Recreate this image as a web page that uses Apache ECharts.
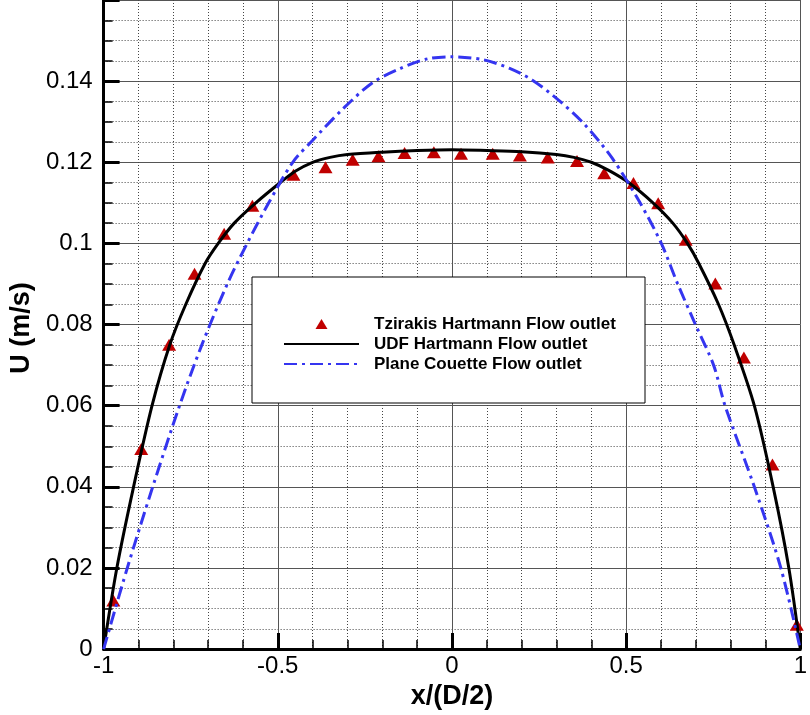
<!DOCTYPE html>
<html>
<head>
<meta charset="utf-8">
<script src="https://cdn.jsdelivr.net/npm/echarts@6/dist/echarts.min.js"></script>
<style>
html,body{margin:0;padding:0;background:#fff;}
#chart{width:810px;height:715px;}
</style>
</head>
<body>
<div id="chart"></div>
<script>
// ---- data ----
const seriesNames = ['Tzirakis Hartmann Flow outlet', 'UDF Hartmann Flow outlet', 'Plane Couette Flow outlet'];

const tzX = [-0.972, -0.892, -0.812, -0.739, -0.654, -0.573, -0.455, -0.363, -0.285, -0.211, -0.136, -0.052, 0.026, 0.117, 0.195, 0.275, 0.359, 0.437, 0.521, 0.592, 0.671, 0.756, 0.838, 0.920, 0.990];
const tzY = [0.0120, 0.0493, 0.0750, 0.0925, 0.1024, 0.1093, 0.1169, 0.1188, 0.1206, 0.1215, 0.1223, 0.1225, 0.1221, 0.1221, 0.1217, 0.1212, 0.1203, 0.1173, 0.1149, 0.1099, 0.1009, 0.0901, 0.0719, 0.0455, 0.0060];

const udfX = [-1.000, -0.962, -0.914, -0.861, -0.810, -0.764, -0.709, -0.671, -0.625, -0.563, -0.490, -0.450, -0.400, -0.350, -0.300, -0.200, -0.100, 0.000, 0.100, 0.200, 0.300, 0.350, 0.400, 0.450, 0.507, 0.577, 0.634, 0.676, 0.709, 0.765, 0.810, 0.868, 0.922, 0.967, 1.000];
const udfY = [0.0000, 0.0200, 0.0400, 0.0600, 0.0750, 0.0850, 0.0950, 0.1000, 0.1050, 0.1100, 0.1152, 0.1178, 0.1200, 0.1212, 0.1219, 0.1225, 0.1229, 0.1231, 0.1229, 0.1226, 0.1219, 0.1212, 0.1200, 0.1180, 0.1150, 0.1100, 0.1050, 0.1000, 0.0950, 0.0850, 0.0750, 0.0600, 0.0400, 0.0200, 0.0000];

const pcX = [-1.000, -0.932, -0.859, -0.782, -0.718, -0.645, -0.588, -0.526, -0.457, -0.399, -0.315, -0.230, -0.146, -0.070, 0.000, 0.089, 0.164, 0.230, 0.305, 0.380, 0.460, 0.540, 0.601, 0.648, 0.699, 0.751, 0.784, 0.868, 0.944, 1.000];
const pcY = [0.0000, 0.0200, 0.0400, 0.0600, 0.0750, 0.0900, 0.1000, 0.1100, 0.1200, 0.1255, 0.1330, 0.1395, 0.1432, 0.1455, 0.1460, 0.1453, 0.1432, 0.1403, 0.1354, 0.1294, 0.1210, 0.1100, 0.1000, 0.0900, 0.0800, 0.0700, 0.0600, 0.0400, 0.0200, 0.0000];

const xTickValues = [-1, -0.5, 0, 0.5, 1];
const xTickLabels = ['-1', '-0.5', '0', '0.5', '1'];
const yTickValues = [0, 0.02, 0.04, 0.06, 0.08, 0.1, 0.12, 0.14];
const yTickLabels = ['0', '0.02', '0.04', '0.06', '0.08', '0.1', '0.12', '0.14'];

const axisTitles = { x: 'x/(D/2)', y: 'U (m/s)' };

// ---- build ----
function zip(xs, ys) { return xs.map((x, i) => [x, ys[i]]); }
function lookup(values, labels) {
  return function (v) {
    const i = values.findIndex(t => Math.abs(t - v) < 1e-9);
    return i >= 0 ? labels[i] : '';
  };
}

const FONT = '"Liberation Sans", Arial, sans-serif';
const chart = echarts.init(document.getElementById('chart'), null, { renderer: 'canvas' });

const axisCommon = {
  type: 'value',
  axisLine: { show: true, onZero: false, lineStyle: { color: '#000', width: 3 } },
  axisTick: { show: true, inside: true, length: 16, lineStyle: { color: '#000', width: 3 } },
  minorTick: { show: true, length: 9, lineStyle: { color: '#000', width: 1.5 } },
  splitLine: { show: true, lineStyle: { color: '#555', width: 1, type: 'solid' } },
  minorSplitLine: { show: true, lineStyle: { color: '#444', width: 1, type: [1, 2] } },
  nameTextStyle: { fontFamily: FONT, fontWeight: 'bold', fontSize: 27, color: '#000' }
};

const option = {
  backgroundColor: '#fff',
  animation: false,
  grid: { left: 101, right: -1, top: -59.5, bottom: 62.5, containLabel: false },
  xAxis: Object.assign({}, axisCommon, {
    min: -1, max: 1, interval: 0.5,
    minorTick: Object.assign({}, axisCommon.minorTick, { splitNumber: 5 }),
    axisLabel: { fontFamily: FONT, fontSize: 24, color: '#000', margin: 5, formatter: lookup(xTickValues, xTickLabels) },
    name: axisTitles.x, nameLocation: 'middle', nameGap: 29
  }),
  yAxis: Object.assign({}, axisCommon, {
    min: 0, max: 0.16, interval: 0.02,
    minorTick: Object.assign({}, axisCommon.minorTick, { splitNumber: 4 }),
    axisLabel: { fontFamily: FONT, fontSize: 24, color: '#000', margin: 11, formatter: lookup(yTickValues, yTickLabels) },
    name: axisTitles.y, nameLocation: 'middle', nameGap: 60, nameRotate: 90,
    nameTextStyle: Object.assign({}, axisCommon.nameTextStyle, { padding: [0, 7, 0, 0] })
  }),
  legend: {
    orient: 'vertical',
    left: 283, top: 315.5,
    padding: 0,
    itemWidth: 75, itemHeight: 10, itemGap: 3,
    z: 10,
    textStyle: { fontFamily: FONT, fontWeight: 'bold', fontSize: 17, lineHeight: 17, color: '#000', padding: [0, 0, 0, 10] },
    data: [
      { name: seriesNames[0], icon: 'path://M6,0 L12,10 L0,10 Z' },
      { name: seriesNames[1], itemStyle: { opacity: 0 } },
      { name: seriesNames[2], itemStyle: { opacity: 0 } }
    ]
  },
  graphic: [{
    type: 'rect', z: 9,
    shape: { x: 252, y: 277, width: 393, height: 126 },
    style: { fill: '#fff', stroke: '#000', lineWidth: 1 }
  }],
  series: [
    {
      name: seriesNames[1], type: 'line', data: zip(udfX, udfY),
      symbol: 'none', smooth: 0.3, z: 3,
      lineStyle: { color: '#000', width: 3 }, itemStyle: { color: '#000' }
    },
    {
      name: seriesNames[2], type: 'line', data: zip(pcX, pcY),
      symbol: 'none', smooth: 0.3, z: 3,
      lineStyle: { color: '#3535f0', width: 3, type: [13, 5, 3, 5] }, itemStyle: { color: '#3535f0' }
    },
    {
      name: seriesNames[0], type: 'scatter', data: zip(tzX, tzY),
      symbol: 'triangle', symbolSize: [14, 12], z: 2,
      itemStyle: { color: '#c00000', opacity: 1 }
    }
  ]
};
chart.setOption(option);
</script>
</body>
</html>
